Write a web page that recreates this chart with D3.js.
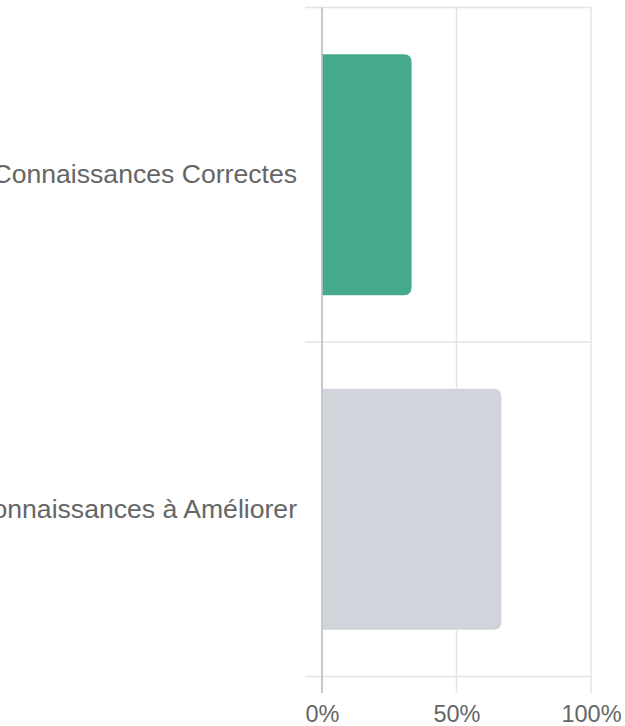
<!DOCTYPE html>
<html>
<head>
<meta charset="utf-8">
<script src="https://cdn.jsdelivr.net/npm/d3@7"></script>
<style>
  body { margin: 0; background: #fff; }
  svg { display: block; }
  text { font-family: "Liberation Sans", Arial, sans-serif; fill: #666; }
</style>
</head>
<body>
<div id="chart"></div>
<script>
// data
var categories = ["Connaissances Correctes", "Connaissances à Améliorer"];
var values = [33.3, 66.7];
var barColors = ["#45aa8b", "#d1d5db"];
var xTicks = [0, 50, 100];

var W = 625, H = 726;
var plotLeft = 322, plotRight = 591, plotTop = 7.5, plotBottom = 676.5;

var svg = d3.select("#chart").append("svg")
    .attr("width", W)
    .attr("height", H);

// scales
var x = d3.scaleLinear().domain([0, 100]).range([plotLeft, plotRight]);
var yGrid = d3.scaleBand().domain(categories).range([plotTop, plotBottom]);
var yBar = d3.scaleBand().domain(categories).range([plotTop, plotBottom])
    .paddingInner(0.28).paddingOuter(0.14);

// horizontal grid lines (between categories)
var hLines = categories.map(function(c) { return yGrid(c); }).concat([plotBottom]);
svg.append("g").selectAll("line")
    .data(hLines)
  .enter().append("line")
    .attr("x1", plotLeft - 17).attr("x2", plotRight)
    .attr("y1", function(d) { return d; })
    .attr("y2", function(d) { return d; })
    .attr("stroke", "#e4e4e4")
    .attr("stroke-width", 1.5);

// vertical grid lines
svg.append("g").selectAll("line")
    .data(xTicks)
  .enter().append("line")
    .attr("x1", function(d) { return x(d); })
    .attr("x2", function(d) { return x(d); })
    .attr("y1", plotTop).attr("y2", plotBottom + 16.5)
    .attr("stroke", function(d) { return d === 0 ? "#c4c4c4" : "#e4e4e4"; })
    .attr("stroke-width", 1.5);

// bars, rounded on the right end only
var r = 8;
function barPath(d, i) {
  var x0 = x(0), x1 = x(d), y0 = yBar(categories[i]), h = yBar.bandwidth();
  return "M" + x0 + "," + y0 +
    "H" + (x1 - r) +
    "Q" + x1 + "," + y0 + " " + x1 + "," + (y0 + r) +
    "V" + (y0 + h - r) +
    "Q" + x1 + "," + (y0 + h) + " " + (x1 - r) + "," + (y0 + h) +
    "H" + x0 + "Z";
}
svg.append("g").selectAll("path")
    .data(values)
  .enter().append("path")
    .attr("d", barPath)
    .attr("fill", function(d, i) { return barColors[i]; });

// redraw the zero line on top of bars
svg.append("line")
    .attr("x1", x(0)).attr("x2", x(0))
    .attr("y1", plotTop).attr("y2", plotBottom + 16.5)
    .attr("stroke", "#c4c4c4")
    .attr("stroke-width", 1.5);

// x axis labels
var xAxis = svg.append("g")
    .attr("transform", "translate(0," + (plotBottom + 16.5) + ")")
    .call(d3.axisBottom(x).tickValues(xTicks).tickSize(0).tickPadding(12)
      .tickFormat(function(d) { return d + "%"; }));
xAxis.select(".domain").remove();
xAxis.selectAll("text").style("font-size", "23.5px").attr("fill", "#666");

// y axis labels
var yAxis = svg.append("g")
    .attr("transform", "translate(" + plotLeft + ",0)")
    .call(d3.axisLeft(yBar).tickSize(0).tickPadding(25));
yAxis.select(".domain").remove();
yAxis.selectAll("text").style("font-size", "26.6px").attr("fill", "#666");
</script>
</body>
</html>
